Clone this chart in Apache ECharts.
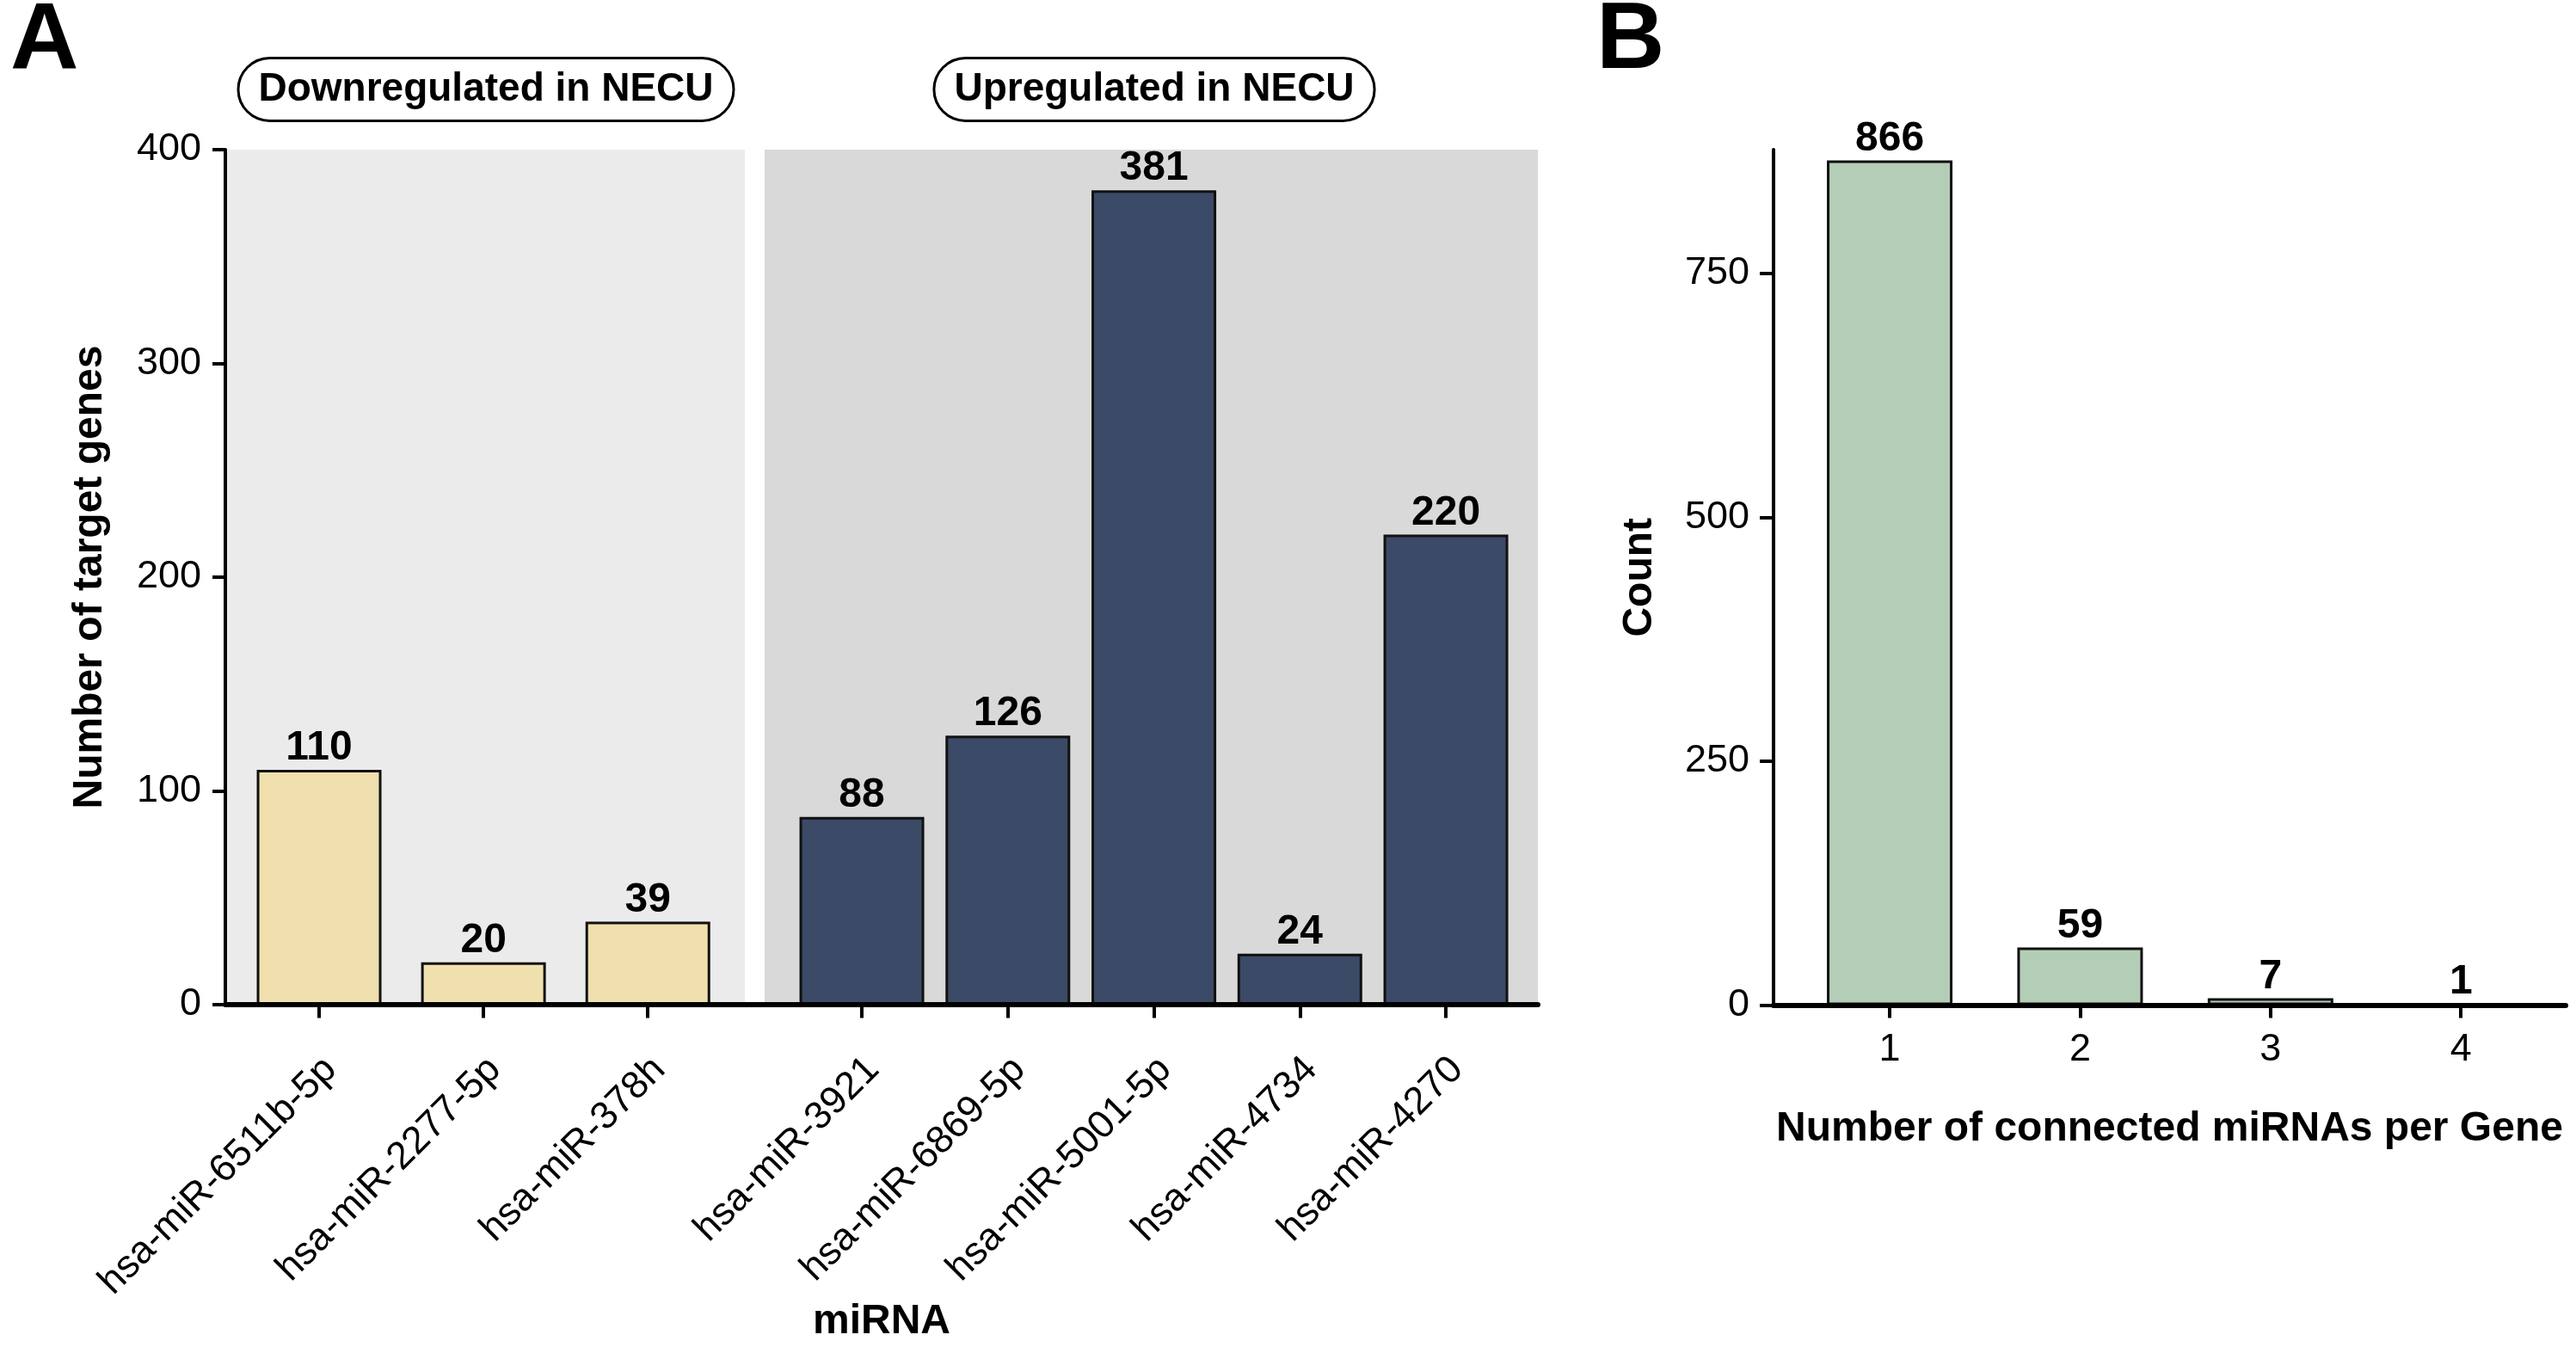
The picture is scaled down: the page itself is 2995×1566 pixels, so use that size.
<!DOCTYPE html>
<html>
<head>
<meta charset="utf-8">
<script src="https://cdn.jsdelivr.net/npm/echarts@6/dist/echarts.min.js"></script>
<style>
html,body{margin:0;padding:0;background:#fff;}
#chart{width:2995px;height:1566px;}
</style>
</head>
<body>
<div id="chart"></div>
<script>
// ---------- data ----------
const miRNAsDown = ['hsa-miR-6511b-5p', 'hsa-miR-2277-5p', 'hsa-miR-378h'];
const targetsDown = [110, 20, 39];
const miRNAsUp = ['hsa-miR-3921', 'hsa-miR-6869-5p', 'hsa-miR-5001-5p', 'hsa-miR-4734', 'hsa-miR-4270'];
const targetsUp = [88, 126, 381, 24, 220];
const connectedMiRNAs = ['1', '2', '3', '4'];
const geneCounts = [866, 59, 7, 1];
const yTicksA = [0, 100, 200, 300, 400];
const yTicksB = [0, 250, 500, 750];
const groupTitles = ['Downregulated in NECU', 'Upregulated in NECU'];
const panelLetters = ['A', 'B'];
const axisTitles = { aY: 'Number of target genes', aX: 'miRNA', bY: 'Count', bX: 'Number of connected miRNAs per Gene' };

// ---------- style ----------
const FONT = "'Liberation Sans', Arial, Helvetica, sans-serif";
const TOP = 174, H = 994.5;
const colDown = '#f0e0ae', colUp = '#3b4a66', colB = '#b4cdb7';

const idx = arr => arr.map((_, i) => i);
const lbl = { fontFamily: FONT, fontSize: 45, color: '#000' };
const catLbl = { fontFamily: FONT, fontSize: 45, color: '#000', rotate: 45, margin: 4,
  verticalAlign: 'top', align: 'right', padding: [32, 36, 0, 0] };
const boldTitle = { fontFamily: FONT, fontSize: 48, fontWeight: 'bold', color: '#000' };
const valLabel = { show: true, position: 'top', distance: 1, fontFamily: FONT, fontSize: 48, fontWeight: 'bold', color: '#000' };

const chart = echarts.init(document.getElementById('chart'), null, { renderer: 'canvas' });

const option = {
  backgroundColor: '#fff',
  animation: false,
  grid: [
    { left: 262, top: TOP, width: 1526, height: H },
    { left: 264, top: TOP, width: 602, height: H, show: true, backgroundColor: '#ebebeb', borderWidth: 0 },
    { left: 889, top: TOP, width: 899, height: H, show: true, backgroundColor: '#d9d9d9', borderWidth: 0 },
    { left: 2062, top: TOP, width: 921, height: H }
  ],
  xAxis: [
    { gridIndex: 0, type: 'value', min: 0, max: 1, z: 5,
      axisLine: { show: true, lineStyle: { color: '#000', width: 6 } },
      axisTick: { show: false }, axisLabel: { show: false }, splitLine: { show: false },
      name: axisTitles.aX, nameLocation: 'middle', nameGap: 345, nameTextStyle: boldTitle },
    { gridIndex: 1, type: 'value', min: -0.56, max: 2.59,
      axisLine: { show: false }, splitLine: { show: false },
      axisTick: { show: true, customValues: idx(miRNAsDown), length: 15, lineStyle: { color: '#000', width: 4 } },
      axisLabel: Object.assign({ customValues: idx(miRNAsDown), formatter: v => miRNAsDown[Math.round(v)] }, catLbl) },
    { gridIndex: 2, type: 'value', min: -0.666, max: 4.63,
      axisLine: { show: false }, splitLine: { show: false },
      axisTick: { show: true, customValues: idx(miRNAsUp), length: 15, lineStyle: { color: '#000', width: 4 } },
      axisLabel: Object.assign({ customValues: idx(miRNAsUp), formatter: v => miRNAsUp[Math.round(v)] }, catLbl) },
    { gridIndex: 3, type: 'value', min: 0.39, max: 4.55, z: 5,
      axisLine: { show: true, lineStyle: { color: '#000', width: 6 } }, splitLine: { show: false },
      axisTick: { show: true, customValues: [1, 2, 3, 4], length: 15, lineStyle: { color: '#000', width: 4 } },
      axisLabel: Object.assign({ customValues: [1, 2, 3, 4], margin: 30,
        formatter: v => connectedMiRNAs[Math.round(v) - 1] }, lbl),
      name: axisTitles.bX, nameLocation: 'middle', nameGap: 120, nameTextStyle: boldTitle }
  ],
  yAxis: [
    { gridIndex: 0, type: 'value', min: yTicksA[0], max: yTicksA[yTicksA.length - 1], interval: 100, z: 5,
      axisLine: { show: true, lineStyle: { color: '#000', width: 4 } },
      axisTick: { show: true, length: 15, lineStyle: { color: '#000', width: 4 } },
      axisLabel: Object.assign({ margin: 28 }, lbl), splitLine: { show: false },
      name: axisTitles.aY, nameLocation: 'middle', nameGap: 133, nameTextStyle: boldTitle },
    { gridIndex: 1, type: 'value', min: 0, max: 400, show: false, splitLine: { show: false } },
    { gridIndex: 2, type: 'value', min: 0, max: 400, show: false, splitLine: { show: false } },
    { gridIndex: 3, type: 'value', min: 0, max: 877, z: 5,
      axisLine: { show: true, lineStyle: { color: '#000', width: 4 } },
      axisTick: { show: true, customValues: yTicksB, length: 16, lineStyle: { color: '#000', width: 4 } },
      axisLabel: Object.assign({ customValues: yTicksB, margin: 28 }, lbl), splitLine: { show: false },
      name: axisTitles.bY, nameLocation: 'middle', nameGap: 131, nameTextStyle: boldTitle }
  ],
  series: [
    { type: 'bar', xAxisIndex: 1, yAxisIndex: 1, barWidth: 145,
      data: targetsDown.map((v, i) => [i, v]),
      itemStyle: { color: colDown, borderColor: '#111', borderWidth: 3 }, label: valLabel },
    { type: 'bar', xAxisIndex: 2, yAxisIndex: 2, barWidth: 145,
      data: targetsUp.map((v, i) => [i, v]),
      itemStyle: { color: colUp, borderColor: '#111', borderWidth: 3 }, label: valLabel },
    { type: 'bar', xAxisIndex: 3, yAxisIndex: 3, barWidth: 146,
      data: geneCounts.map((v, i) => [i + 1, v]),
      itemStyle: { color: colB, borderColor: '#111', borderWidth: 3 }, label: valLabel }
  ],
  graphic: [
    { type: 'text', left: 12, top: -6, style: { text: panelLetters[0], font: "bold 110px " + FONT, fill: '#000' } },
    { type: 'text', left: 1856, top: -6, style: { text: panelLetters[1], font: "bold 110px " + FONT, fill: '#000' } },
    { type: 'text', x: 565, y: 104, style: { text: groupTitles[0], font: "bold 46px " + FONT, fill: '#000',
        align: 'center', verticalAlign: 'middle', backgroundColor: '#fff', borderColor: '#000', borderWidth: 3,
        borderRadius: 40, padding: [12, 22, 12, 22] } },
    { type: 'text', x: 1342, y: 104, style: { text: groupTitles[1], font: "bold 46px " + FONT, fill: '#000',
        align: 'center', verticalAlign: 'middle', backgroundColor: '#fff', borderColor: '#000', borderWidth: 3,
        borderRadius: 40, padding: [12, 22, 12, 22] } }
  ]
};
chart.setOption(option);
</script>
</body>
</html>
